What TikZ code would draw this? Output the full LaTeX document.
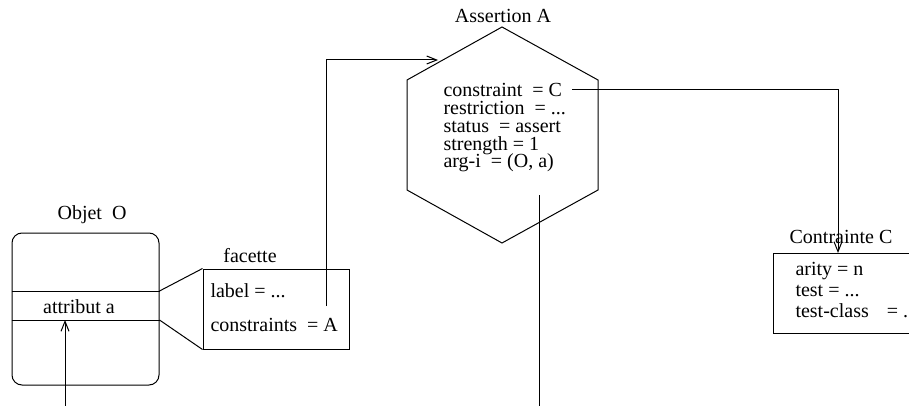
\documentclass[tikz,border=0pt]{standalone}
\usepackage{fontspec}
\setmainfont{Liberation Serif}
\usetikzlibrary{arrows.meta}
\tikzset{
  fleche/.style={-{Straight Barb[length=10pt,width=8pt]}},
  boite/.style={draw, rectangle, inner sep=0pt},
  texte/.style={inner sep=0pt, anchor=base west, text height=12pt, text depth=3pt},
  titre/.style={inner sep=0pt, anchor=base},
}
\begin{document}
\begin{tikzpicture}[x=1pt,y=-1pt,line width=1pt,font=\fontsize{20}{24}\selectfont]
	\clip (0,0) rectangle (909,406);
	\coordinate (sepA) at (0,291);
	\coordinate (sepB) at (0,320);
	\coordinate (bas) at (0,410);
	
	%OBJET
	\node[boite, rounded corners=10pt, minimum width=147pt, minimum height=152pt] (objet) at (85.5,309) {};
	\node[titre] (nomO) at (92,219) {Objet~ O};
	\draw (objet.west |- sepA) -- (objet.east |- sepA);
	\draw (objet.west |- sepB) -- (objet.east |- sepB);
	\node[titre] (attr) at (79,313) {attribut a};
	
	%FACETTE
	\node[boite, minimum width=146pt, minimum height=80pt] (facette) at (276,309) {};
	\node[titre] (nomF) at (250,262) {facette};
	\node[texte] (label) at (210,297) {label = ...};
	\node[texte] (contr) at (210,331) {constraints~ = A};
	\draw (objet.east |- sepA) -- (facette.north west);
	\draw (objet.east |- sepB) -- (facette.south west);
	
	%ASSERTION
	\coordinate (hH) at (502,27);
	\coordinate (hHG) at (407,80);
	\coordinate (hBG) at (407,190);
	\coordinate (hB) at (502,243);
	\coordinate (hBD) at (598,190);
	\coordinate (hHD) at (598,80);
	\draw (hH) -- (hHG) -- (hBG) -- (hB) -- (hBD) -- (hHD) -- cycle;
	\node[titre] (nomA) at (503,23) {Assertion A};
	\node[texte] (cons) at (443,97) {constraint~ = C};
	\node[texte] (restr) at (443,114.7) {restriction~ = ...};
	\node[texte] (stat) at (443,132.4) {status~ = assert};
	\node[texte] (stre) at (443,150.1) {strength = 1};
	\node[texte] (argi) at (443,167.8) {arg-i~ = (O, a)};
	
	%CONTRAINTE
	\node[boite, minimum width=150pt, minimum height=80pt] (contrainte) at (848,293) {};
	\node[titre] (nomC) at (841,243) {Contrainte C};
	\node[texte] (arity) at (795,275) {arity = n};
	\node[texte] (test) at (795,296) {test = ...};
	\node[texte] (tclass) at (795,317) {test-class\hspace{18pt}= ...};
	
	%LIENS
	\coordinate (depA) at (326,306);
	\coordinate (entreeA) at (438,60);
	\draw[fleche] (depA) |- (entreeA);
	\coordinate (depC) at (572,90);
	\coordinate (entreeC) at (838,253);
	\draw[fleche] (depC) -| (entreeC);
	\coordinate (virg) at (539,195);
	\draw (virg) -- (virg |- bas);
	\coordinate (basO) at (65,410);
	\draw[fleche] (basO) -- (basO |- sepB);
\end{tikzpicture}
\end{document}
